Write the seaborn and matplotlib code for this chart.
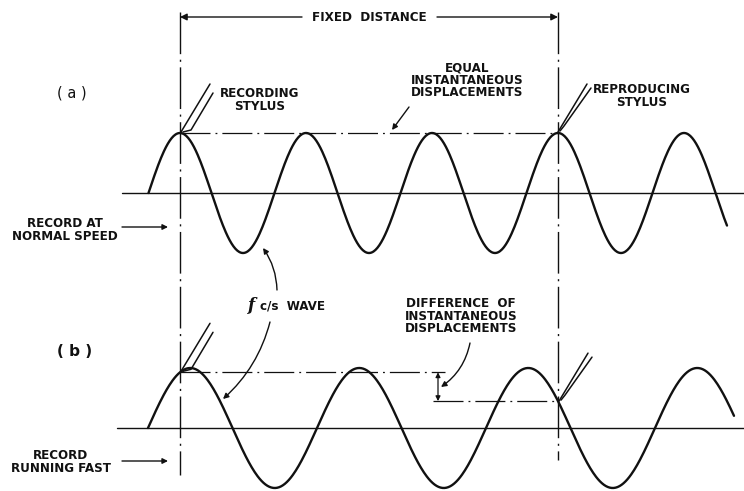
import numpy as np
import pandas as pd
import seaborn as sns
import matplotlib.pyplot as plt
from matplotlib import font_manager

# diagram works in pixel units of the original figure (744 x 491, y downwards)
# wave (a): record at normal speed
wave_a_start = 148.5
wave_a_end = 727
wave_a_period = 126
wave_a_base = 193
wave_a_base_span = [122, 744]

# wave (b): record running fast (longer wavelength)
wave_b_start = 148
wave_b_end = 734
wave_b_period = 169
wave_b_base = 428
wave_b_base_span = [117, 744]

amplitude = 60

# the two dash-dot stylus positions and the fixed distance between them
stylus_x = [180, 558]
stylus_y_top = 12
stylus_y_bottom = [475, 460]
fixed_dist_y = 17

INK = '#111111'

# a narrow bold face suits the lettering best; fall back to a smaller size
fonts = font_manager.fontManager.ttflist
names = {f.name for f in fonts}
if 'Liberation Sans Narrow' in names:
    FONT, STRETCH, FS = ['Liberation Sans Narrow', 'DejaVu Sans'], 'normal', 9.8
elif any(f.name == 'DejaVu Sans' and f.stretch == 'condensed' for f in fonts):
    FONT, STRETCH, FS = ['DejaVu Sans'], 'condensed', 9.5
else:
    FONT, STRETCH, FS = ['DejaVu Sans'], 'normal', 8.8


def wave_frame(x0, x1, period, base):
    x = np.linspace(x0, x1, 600)
    y = base - amplitude * np.sin(2 * np.pi * (x - x0) / period)
    return pd.DataFrame({'x': x, 'y': y})


def wave_y(x, x0, period, base):
    return base - amplitude * np.sin(2 * np.pi * (x - x0) / period)


def stylus(ax, tx, ty, foot=True):
    # two parallel lines going up-right from the tip
    ax.plot([tx, tx + 29], [ty, ty - 48], color=INK, lw=1.1)
    if foot:
        ax.plot([tx + 2, tx + 10, tx + 32], [ty, ty - 2, ty - 39], color=INK, lw=1.1)
    else:
        ax.plot([tx + 2, tx + 6, tx + 33], [ty - 1, ty - 6, ty - 44], color=INK, lw=1.1)


sns.set_style('white')
plt.rcParams['font.family'] = FONT

fig = plt.figure(figsize=(7.44, 4.91), dpi=100)
ax = fig.add_axes([0, 0, 1, 1])

df_a = wave_frame(wave_a_start, wave_a_end, wave_a_period, wave_a_base)
df_b = wave_frame(wave_b_start, wave_b_end, wave_b_period, wave_b_base)
sns.lineplot(data=df_a, x='x', y='y', sort=False, estimator=None, color=INK, lw=1.7, ax=ax)
sns.lineplot(data=df_b, x='x', y='y', sort=False, estimator=None, color=INK, lw=1.7, ax=ax)
ax.set_xlim(0, 744)
ax.set_ylim(491, 0)
ax.axis('off')

# baselines
ax.plot(wave_a_base_span, [wave_a_base] * 2, color=INK, lw=1.0)
ax.plot(wave_b_base_span, [wave_b_base] * 2, color=INK, lw=1.0)

# vertical dash-dot lines
dashdot = (0, (30, 4, 1.5, 4))
for sx, yb in zip(stylus_x, stylus_y_bottom):
    ax.plot([sx, sx], [stylus_y_top, yb], color=INK, lw=1.0, linestyle=dashdot)

# horizontal dash-dot reference lines
hdash = (0, (24, 4, 1.5, 4))
peak_a = wave_a_base - amplitude
ax.plot([stylus_x[0], stylus_x[1]], [peak_a] * 2, color=INK, lw=0.9, linestyle=hdash)
yb_left = wave_y(stylus_x[0], wave_b_start, wave_b_period, wave_b_base)
yb_right = wave_y(stylus_x[1], wave_b_start, wave_b_period, wave_b_base)
ax.plot([stylus_x[0], 445], [yb_left] * 2, color=INK, lw=0.9, linestyle=hdash)
ax.plot([433, stylus_x[1]], [yb_right] * 2, color=INK, lw=0.9, linestyle=hdash)

# difference arrow
ax.annotate('', xy=(438, yb_left), xytext=(438, yb_right),
            arrowprops=dict(arrowstyle='<|-|>', color=INK, lw=0.9, mutation_scale=7,
                            shrinkA=0, shrinkB=0))

# styluses
stylus(ax, stylus_x[0] + 1, peak_a - 1)
stylus(ax, stylus_x[1], peak_a - 1, foot=False)
stylus(ax, stylus_x[0] + 1, yb_left - 1)
stylus(ax, stylus_x[1] + 1, yb_right, foot=False)

# fixed distance dimension
arrow_kw = dict(arrowstyle='-|>', color=INK, lw=1.0, mutation_scale=10, shrinkA=0, shrinkB=0)
ax.annotate('', xy=(stylus_x[0], fixed_dist_y), xytext=(302, fixed_dist_y), arrowprops=arrow_kw)
ax.annotate('', xy=(stylus_x[1], fixed_dist_y), xytext=(437, fixed_dist_y), arrowprops=arrow_kw)

txt = dict(color=INK, fontsize=FS, fontweight='bold', fontstretch=STRETCH,
           ha='center', va='center', linespacing=0.95)
ax.text(369, fixed_dist_y, 'FIXED  DISTANCE', **txt)
ax.text(72, 93, '( a )', color=INK, fontsize=10.5, ha='center', va='center')
ax.text(75, 352, '( b )', color=INK, fontsize=11, fontweight='bold', ha='center', va='center')
ax.text(260, 100, 'RECORDING\nSTYLUS', **txt)
ax.text(467, 80, 'EQUAL\nINSTANTANEOUS\nDISPLACEMENTS', **txt)
ax.text(642, 96, 'REPRODUCING\nSTYLUS', **txt)
ax.text(65, 230, 'RECORD AT\nNORMAL SPEED', **txt)
ax.text(61, 462, 'RECORD\nRUNNING FAST', **txt)
ax.text(461, 316, 'DIFFERENCE  OF\nINSTANTANEOUS\nDISPLACEMENTS', **txt)
ax.text(252, 305, 'f', color=INK, fontsize=12, fontweight='bold', style='italic',
        ha='center', va='center', family='DejaVu Serif')
ax.text(260, 306, 'c/s  WAVE', **{**txt, 'ha': 'left'})

# pointer arrows
small = dict(arrowstyle='-|>', color=INK, lw=1.0, mutation_scale=8, shrinkA=0, shrinkB=0)
ax.annotate('', xy=(392, 130), xytext=(409, 107), arrowprops=small)
ax.annotate('', xy=(168, 227), xytext=(122, 227), arrowprops=small)
ax.annotate('', xy=(168, 461), xytext=(122, 461), arrowprops=small)
ax.annotate('', xy=(263, 248), xytext=(277, 290),
            arrowprops={**small, 'connectionstyle': 'arc3,rad=0.15'})
ax.annotate('', xy=(223, 399), xytext=(270, 322),
            arrowprops={**small, 'connectionstyle': 'arc3,rad=-0.15'})
ax.annotate('', xy=(441, 387), xytext=(470, 343),
            arrowprops={**small, 'connectionstyle': 'arc3,rad=-0.2'})

fig.savefig('out.png', dpi=100, facecolor='white')
